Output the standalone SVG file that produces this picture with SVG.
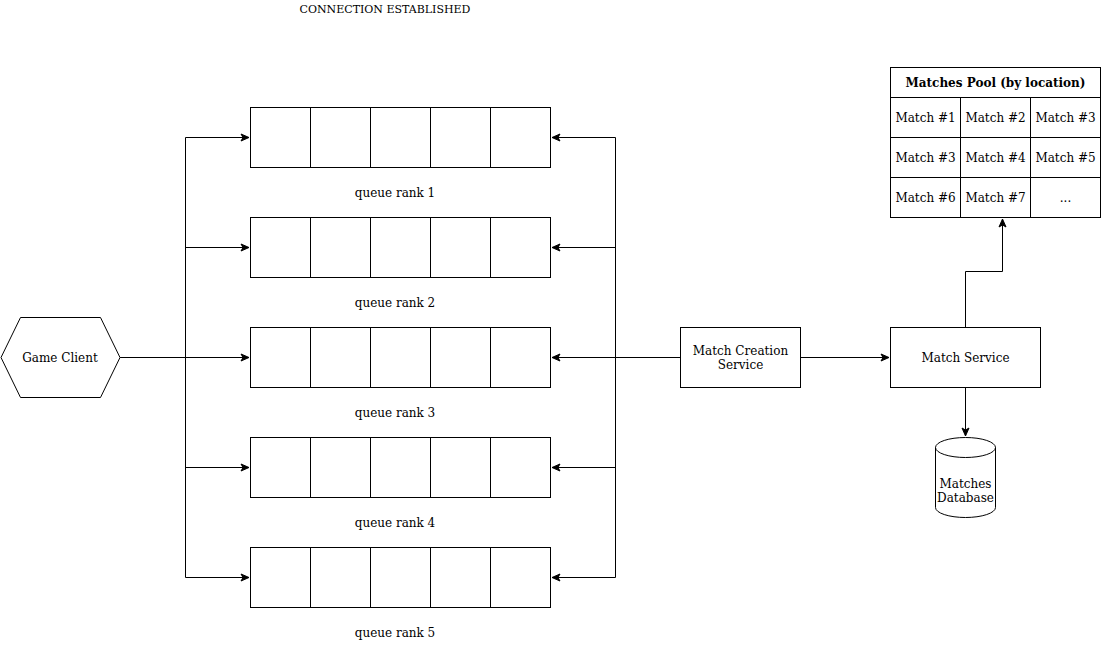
<svg xmlns="http://www.w3.org/2000/svg" width="1101" height="648" viewBox="0 0 1101 648">
<defs>
<marker id="arr" viewBox="0 0 10 10" refX="9" refY="5" markerWidth="10" markerHeight="10" markerUnits="userSpaceOnUse" orient="auto">
<path d="M1,1.5 L9,5 L1,8.5 L3,5 Z" fill="#000" stroke="#000" stroke-width="1"/>
</marker>
</defs>
<style>
text{font-family:"DejaVu Serif","Liberation Serif",serif;font-size:12px;fill:#000;text-anchor:middle;dominant-baseline:central}
.s{fill:#fff;stroke:#000;stroke-width:1}
.c{fill:none;stroke:#000;stroke-width:1}
.b{font-weight:bold;font-size:12px}
</style>
<rect width="1101" height="648" fill="#fff"/>
<text x="385" y="9" style="font-size:11px">CONNECTION ESTABLISHED</text>
<g id="connectors">
<path class="c" d="M120,357.5 H249" marker-end="url(#arr)"/>
<path class="c" d="M185.5,137.5 V577.5"/>
<path class="c" d="M185.5,137.5 H249" marker-end="url(#arr)"/>
<path class="c" d="M185.5,247.5 H249" marker-end="url(#arr)"/>
<path class="c" d="M185.5,467.5 H249" marker-end="url(#arr)"/>
<path class="c" d="M185.5,577.5 H249" marker-end="url(#arr)"/>
<path class="c" d="M615.5,137.5 V577.5"/>
<path class="c" d="M680,357.5 H552" marker-end="url(#arr)"/>
<path class="c" d="M615.5,137.5 H552" marker-end="url(#arr)"/>
<path class="c" d="M615.5,247.5 H552" marker-end="url(#arr)"/>
<path class="c" d="M615.5,467.5 H552" marker-end="url(#arr)"/>
<path class="c" d="M615.5,577.5 H552" marker-end="url(#arr)"/>
<path class="c" d="M800.5,357.5 H889" marker-end="url(#arr)"/>
<path class="c" d="M965.5,327.5 V271.5 H1002.5 V219" marker-end="url(#arr)"/>
<path class="c" d="M965.5,387.5 V436" marker-end="url(#arr)"/>
</g>
<g id="game-client">
<path class="s" d="M1,357.5 L20.5,317.5 H100.5 L120,357.5 L100.5,397.5 H20.5 Z"/>
<text x="60" y="357.5">Game Client</text>
</g>
<g id="queue1">
<rect class="s" x="250.5" y="107.5" width="300" height="60"/>
<path class="c" d="M310.5,107.5V167.5M370.5,107.5V167.5M430.5,107.5V167.5M490.5,107.5V167.5"/>
<text x="395" y="192.5">queue rank 1</text>
</g>
<g id="queue2">
<rect class="s" x="250.5" y="217.5" width="300" height="60"/>
<path class="c" d="M310.5,217.5V277.5M370.5,217.5V277.5M430.5,217.5V277.5M490.5,217.5V277.5"/>
<text x="395" y="302.5">queue rank 2</text>
</g>
<g id="queue3">
<rect class="s" x="250.5" y="327.5" width="300" height="60"/>
<path class="c" d="M310.5,327.5V387.5M370.5,327.5V387.5M430.5,327.5V387.5M490.5,327.5V387.5"/>
<text x="395" y="412.5">queue rank 3</text>
</g>
<g id="queue4">
<rect class="s" x="250.5" y="437.5" width="300" height="60"/>
<path class="c" d="M310.5,437.5V497.5M370.5,437.5V497.5M430.5,437.5V497.5M490.5,437.5V497.5"/>
<text x="395" y="522.5">queue rank 4</text>
</g>
<g id="queue5">
<rect class="s" x="250.5" y="547.5" width="300" height="60"/>
<path class="c" d="M310.5,547.5V607.5M370.5,547.5V607.5M430.5,547.5V607.5M490.5,547.5V607.5"/>
<text x="395" y="632.5">queue rank 5</text>
</g>
<g id="match-creation-service">
<rect class="s" x="680.5" y="327.5" width="120" height="60"/>
<text x="740.5" y="350.5">Match Creation</text>
<text x="740.5" y="364.5">Service</text>
</g>
<g id="match-service">
<rect class="s" x="890.5" y="327.5" width="150" height="60"/>
<text x="965.5" y="357.5">Match Service</text>
</g>
<g id="matches-database">
<path class="s" d="M935.5,447.5 A30,10 0 0 1 995.5,447.5 V507.5 A30,10 0 0 1 935.5,507.5 Z"/>
<path class="c" d="M935.5,447.5 A30,10 0 0 0 995.5,447.5"/>
<text x="965.5" y="483.5">Matches</text>
<text x="965.5" y="497.5">Database</text>
</g>
<g id="matches-pool">
<rect class="s" x="890.5" y="67.5" width="210" height="150"/>
<path class="c" d="M890.5,97.5H1100.5M890.5,137.5H1100.5M890.5,177.5H1100.5M960.5,97.5V217.5M1030.5,97.5V217.5"/>
<text class="b" x="995.5" y="82.5">Matches Pool (by location)</text>
<text x="925.5" y="117.5">Match #1</text>
<text x="995.5" y="117.5">Match #2</text>
<text x="1065.5" y="117.5">Match #3</text>
<text x="925.5" y="157.5">Match #3</text>
<text x="995.5" y="157.5">Match #4</text>
<text x="1065.5" y="157.5">Match #5</text>
<text x="925.5" y="197.5">Match #6</text>
<text x="995.5" y="197.5">Match #7</text>
<text x="1065.5" y="197.5">...</text>
</g>
</svg>
